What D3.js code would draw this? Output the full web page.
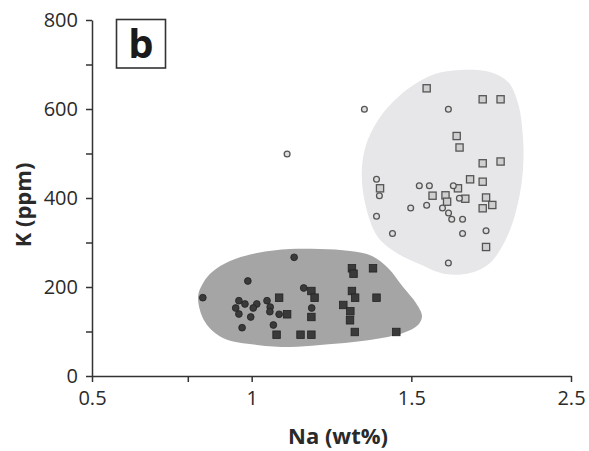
<!DOCTYPE html>
<html><head><meta charset="utf-8">
<script src="https://cdn.jsdelivr.net/npm/d3@7"></script>
<style>body{margin:0;background:#fff} svg{display:block}</style>
</head><body><svg id="c" width="589" height="451"></svg>
<script>
// ---- data ----
const xTickValues = [0.5, 1, 1.5, 2.5];
const xTickLabels = ["0.5", "1", "1.5", "2.5"];
const xMinorTicks = [0.8];
const yTickValues = [0, 200, 400, 600, 800];
const yMinorTicks = [100, 300, 500, 700];
const panelLabel = "b";
const xTitle = "Na (wt%)";
const yTitle = "K (ppm)";

// dark group: circles [Na, K]
const darkCircles = [
  [1.133,266.7],[0.988,213.5],[0.847,176],[0.960,169.2],[0.979,161.8],[1.016,161.8],
  [1.048,169.2],[0.950,152.8],[1.005,152.8],[1.058,155],[0.960,139.3],[1.057,144.5],
  [1.086,138.7],[0.997,132.6],[0.970,108.5],[1.068,114.6],[1.163,197.8],[1.188,152.8]
];
// dark group: squares
const darkSquares = [
  [1.086,176],[1.111,138.7],[1.078,92.8],[1.153,92.8],[1.187,92.8],[1.187,191],
  [1.197,176],[1.187,132.6],[1.314,242],[1.319,229.9],[1.380,242],[1.314,191],
  [1.324,176],[1.391,176],[1.287,159.6],[1.309,145.4],[1.308,125.2],[1.323,98.9],[1.453,98.9]
];
// light group: circles
const lightCircles = [
  [1.353,599.3],[1.111,498.9],[1.732,599.3],[1.391,442],[1.400,405.2],[1.550,427.6],
  [1.613,427.6],[1.763,427.6],[1.801,399.3],[1.498,377.5],[1.596,383.6],[1.695,377.5],
  [1.733,366.3],[1.391,358.9],[1.753,352.4],[1.821,352.4],[1.441,320.2],[1.821,320.2],
  [1.968,326.3],[1.732,253.9]
];
// light group: squares
const lightSquares = [
  [1.596,646.5],[1.947,621.8],[2.059,621.8],[1.784,539.3],[1.802,513.5],[1.947,478],
  [2.059,482],[1.868,442],[1.947,436.6],[1.402,421.8],[1.792,421.8],[1.633,405.2],
  [1.714,406],[1.838,398.4],[1.968,401.1],[1.724,391.7],[1.947,376.9],[2.007,384.3],[1.968,289.9]
];
// field envelopes [Na, K]
const darkField = [
  [0.832,177.5],[0.848,209],[0.876,233.7],[0.932,258.4],[1.017,276.4],[1.120,285.4],
  [1.214,285.4],[1.308,280.9],[1.377,269.7],[1.427,242.7],[1.474,200],[1.529,164],
  [1.567,134.8],[1.542,114.6],[1.474,96.6],[1.370,80.9],[1.214,69.7],[1.120,65.2],
  [1.017,69.7],[0.910,85.4],[0.854,121.3]
];
const lightField = [
  [1.805,687.6],[1.993,683.1],[2.106,660.7],[2.168,613.5],[2.199,537.1],[2.199,462.9],
  [2.168,388.8],[2.099,312.4],[1.993,254],[1.868,231.5],[1.711,229.2],[1.554,251],
  [1.458,275],[1.395,312.4],[1.355,388.8],[1.345,462.9],[1.358,519.1],[1.392,570.8],
  [1.439,613.5],[1.504,651.7],[1.648,678.7]
];

// ---- chart ----
const svg = d3.select("#c");
const FONT = "'Open Sans', sans-serif";
const x = d3.scaleLinear().domain([0.5, 1, 1.5, 2.5]).range([92, 251.67, 411.33, 571]);
const y = d3.scaleLinear().domain([0, 800]).range([376, 20]);

const line = d3.line().x(d => x(d[0])).y(d => y(d[1])).curve(d3.curveCatmullRomClosed.alpha(0.5));
svg.append("path").attr("d", line(lightField)).attr("fill", "#e7e7e9");
svg.append("path").attr("d", line(darkField)).attr("fill", "#a5a5a5");

// axes
const axisColor = "#333";
svg.append("g").attr("transform", `translate(0,${y(0)})`)
  .call(d3.axisBottom(x).tickValues(xTickValues).tickFormat((d, i) => xTickLabels[i])
    .tickSize(6).tickSizeOuter(0).tickPadding(9));
svg.append("g").attr("transform", `translate(0,${y(0)})`)
  .call(d3.axisBottom(x).tickValues(xMinorTicks).tickFormat("").tickSize(6).tickSizeOuter(0))
  .call(g => g.select(".domain").remove());
svg.append("g").attr("transform", `translate(${x(0.5)},0)`)
  .call(d3.axisLeft(y).tickValues(yTickValues).tickSize(6).tickSizeOuter(0).tickPadding(8));
svg.append("g").attr("transform", `translate(${x(0.5)},0)`)
  .call(d3.axisLeft(y).tickValues(yMinorTicks).tickFormat("").tickSize(6).tickSizeOuter(0))
  .call(g => g.select(".domain").remove());
svg.selectAll(".domain, .tick line").attr("stroke", axisColor).attr("stroke-width", 1.5);
svg.selectAll(".tick text").attr("fill", "#2a2a2a").style("font-family", FONT).style("font-size", "20px");

// points
const darkFill = "#3a3a3a", darkStroke = "#222";
const lightStroke = "#555";
svg.append("g").selectAll("rect").data(darkSquares).join("rect")
  .attr("x", d => x(d[0]) - 3.75).attr("y", d => y(d[1]) - 3.75).attr("width", 7.5).attr("height", 7.5)
  .attr("fill", darkFill).attr("stroke", darkStroke).attr("stroke-width", 0.8);
svg.append("g").selectAll("circle").data(darkCircles).join("circle")
  .attr("cx", d => x(d[0])).attr("cy", d => y(d[1])).attr("r", 3.4)
  .attr("fill", darkFill).attr("stroke", darkStroke).attr("stroke-width", 0.8);
svg.append("g").selectAll("rect").data(lightSquares).join("rect")
  .attr("x", d => x(d[0]) - 3.6).attr("y", d => y(d[1]) - 3.6).attr("width", 7.2).attr("height", 7.2)
  .attr("fill", "#cfcfcf").attr("stroke", lightStroke).attr("stroke-width", 1.3);
svg.append("g").selectAll("circle").data(lightCircles).join("circle")
  .attr("cx", d => x(d[0])).attr("cy", d => y(d[1])).attr("r", 2.9)
  .attr("fill", "#dedede").attr("stroke", lightStroke).attr("stroke-width", 1.3);

// titles
svg.append("text").attr("x", 338).attr("y", 444).attr("text-anchor", "middle")
  .style("font-family", FONT).style("font-weight", "bold").style("font-size", "22px")
  .attr("fill", "#2a2a2a").text(xTitle);
svg.append("text").attr("transform", "translate(31,205) rotate(-90)").attr("text-anchor", "middle")
  .style("font-family", FONT).style("font-weight", "bold").style("font-size", "22px")
  .attr("fill", "#2a2a2a").text(yTitle);

// panel label
svg.append("rect").attr("x", 116.5).attr("y", 19.5).attr("width", 49).attr("height", 48.5)
  .attr("fill", "#fff").attr("stroke", "#333").attr("stroke-width", 1.6);
svg.append("text").attr("x", 141).attr("y", 58).attr("text-anchor", "middle")
  .style("font-family", FONT).style("font-weight", "bold").style("font-size", "40px")
  .attr("fill", "#1a1a1a").text(panelLabel);
</script></body></html>
